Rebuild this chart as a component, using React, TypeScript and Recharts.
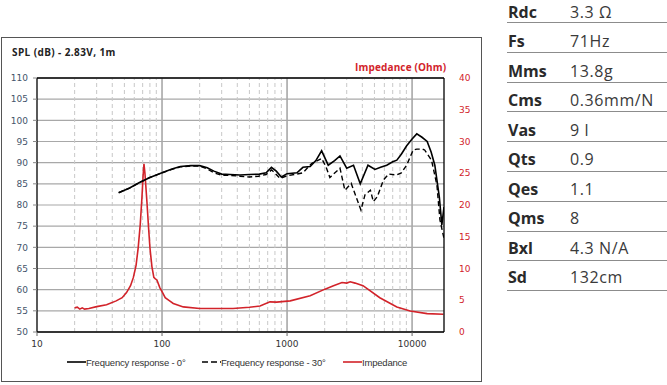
import React from 'react';
import { LineChart, Line, XAxis, YAxis, CartesianGrid, ReferenceLine } from 'recharts';

// ---- data ----
const spl0: { f: number; v: number }[] = [
  [45, 82.9], [55, 84.0], [66, 85.3], [80, 86.5], [100, 87.6], [120, 88.5], [140, 89.1], [170, 89.3],
  [200, 89.3], [230, 88.8], [260, 88.0], [300, 87.3], [350, 87.2], [420, 87.1], [500, 87.2], [600, 87.3],
  [680, 87.6], [750, 88.9], [820, 88.0], [900, 86.6], [1000, 87.4], [1200, 87.6], [1340, 88.9], [1530, 89.1],
  [1700, 90.5], [1890, 92.8], [2135, 89.4], [2400, 90.5], [2650, 91.6], [3000, 88.7], [3400, 89.4],
  [3850, 85.0], [4440, 89.4], [5050, 88.4], [5600, 88.9], [6270, 89.4], [7000, 90.2], [7550, 90.6],
  [8200, 92.0], [9050, 94.0], [10000, 95.6], [10900, 96.8], [12000, 96.0], [13200, 95.0], [14200, 92.5],
  [15200, 89.4], [16500, 82.0], [17300, 75.3], [18000, 79.5],
].map(([f, v]) => ({ f, v }));

const spl30: { f: number; v: number }[] = [
  [45, 82.9], [55, 84.0], [66, 85.3], [80, 86.5], [100, 87.6], [120, 88.4], [140, 89.0], [170, 89.2],
  [200, 89.2], [230, 88.5], [260, 87.6], [300, 87.0], [350, 87.0], [420, 86.8], [500, 86.6], [590, 86.8],
  [680, 87.2], [752, 88.3], [820, 87.2], [880, 86.3], [1000, 86.9], [1200, 87.3], [1340, 87.6], [1570, 89.8],
  [1890, 91.0], [2050, 89.0], [2200, 86.5], [2650, 88.7], [2900, 83.5], [3260, 85.1], [3600, 81.6],
  [3900, 78.8], [4200, 82.4], [4640, 83.5], [4900, 80.8], [5280, 82.0], [5900, 85.9], [6500, 87.3],
  [7550, 87.1], [8200, 87.6], [9050, 89.4], [10200, 93.0], [10900, 93.2], [12100, 93.2], [12600, 93.0],
  [14300, 90.6], [15800, 84.7], [16700, 76.5], [18000, 72.1],
].map(([f, v]) => ({ f, v }));

const impedance: { f: number; v: number }[] = [
  [20, 3.8], [21, 3.9], [22, 3.6], [23, 3.8], [24, 3.6], [26, 3.7], [30, 4.0], [36, 4.3], [43, 4.9],
  [48, 5.4], [52, 6.2], [56, 7.3], [59, 8.6], [62, 10.5], [64.5, 13.3], [67, 17], [69, 21], [70.5, 24.5],
  [71.7, 26.5], [73, 25], [75.6, 20.7], [78, 16.5], [80, 13.3], [83, 10.3], [86, 8.6], [88, 8.4], [91, 8.2],
  [96, 7.0], [101, 6.2], [106, 5.4], [115, 4.9], [123, 4.5], [148, 3.95], [200, 3.7], [370, 3.7],
  [500, 3.9], [608, 4.1], [730, 4.75], [825, 4.7], [1060, 4.9], [1530, 5.7], [2010, 6.75], [2350, 7.3],
  [2750, 7.8], [3000, 7.7], [3200, 7.9], [3500, 7.7], [4050, 7.3], [5520, 5.4], [7550, 3.95],
  [9650, 3.3], [13200, 2.9], [17800, 2.8],
].map(([f, v]) => ({ f, v }));

const xTicks = [10, 100, 1000, 10000];
const minorFreqs = [20, 30, 40, 50, 60, 70, 80, 90, 200, 300, 400, 500, 600, 700, 800, 900,
  2000, 3000, 4000, 5000, 6000, 7000, 8000, 9000];
const majorFreqs = [100, 1000, 10000];
const splTicks = [50, 55, 60, 65, 70, 75, 80, 85, 90, 95, 100, 105, 110];
const impTicks = [0, 5, 10, 15, 20, 25, 30, 35, 40];

const seriesNames = ['Frequency response - 0°', 'Frequency response - 30°', 'Impedance'];

const paramNames = ['Rdc', 'Fs', 'Mms', 'Cms', 'Vas', 'Qts', 'Qes', 'Qms', 'Bxl', 'Sd'];
const paramValues = ['3.3 Ω', '71Hz', '13.8g', '0.36mm/N', '9 l', '0.9', '1.1', '8', '4.3 N/A', '132cm'];

const RED = '#d2232a';
const chartFont = '"DejaVu Sans", Verdana, sans-serif';

export default function App() {
  return (
    <div style={{ position: 'absolute', left: 0, top: 0, width: 667, height: 385, background: '#fff', overflow: 'hidden' }}>
      {/* frame */}
      <div style={{ position: 'absolute', left: 1, top: 37, width: 481, height: 345, border: '1.5px solid #555', boxSizing: 'border-box' }} />
      <div style={{ position: 'absolute', left: 12, top: 45, fontFamily: '"Open Sans", sans-serif', fontWeight: 700, fontSize: 10, letterSpacing: 0.4, color: '#222', whiteSpace: 'nowrap' }}>
        SPL (dB) - 2.83V, 1m
      </div>
      <div style={{ position: 'absolute', left: 355, top: 60, fontFamily: '"Open Sans", sans-serif', fontWeight: 700, fontSize: 10, letterSpacing: 0.15, color: RED, whiteSpace: 'nowrap' }}>
        Impedance (Ohm)
      </div>
      <div style={{ position: 'absolute', left: 0, top: 0 }}>
        <LineChart width={482} height={385} margin={{ top: 78, right: 0, bottom: 23, left: 0 }}>
          <CartesianGrid yAxisId="spl" vertical={false} stroke="#a8a8a8" strokeWidth={1.2} />
          {minorFreqs.map((f) => (
            <ReferenceLine key={'m' + f} yAxisId="spl" x={f} stroke="#c8c8c8" strokeDasharray="4 3" strokeWidth={1} />
          ))}
          {majorFreqs.map((f) => (
            <ReferenceLine key={'M' + f} yAxisId="spl" x={f} stroke="#a8a8a8" strokeWidth={1.6} />
          ))}
          <ReferenceLine yAxisId="spl" y={110} stroke="#000" strokeWidth={1.3} />
          <XAxis
            dataKey="f"
            type="number"
            scale="log"
            domain={[10, 18000]}
            allowDataOverflow
            ticks={xTicks}
            height={30}
            tick={{ fill: '#333', fontSize: 9, fontFamily: chartFont }}
            tickSize={4}
            tickMargin={5}
            tickLine={{ stroke: '#666' }}
            axisLine={{ stroke: '#000', strokeWidth: 1.3 }}
          />
          <YAxis
            yAxisId="spl"
            orientation="left"
            domain={[50, 110]}
            ticks={splTicks}
            width={37}
            interval={0}
            tick={{ fill: '#44546a', fontSize: 9, fontFamily: chartFont }}
            tickSize={4}
            tickMargin={5}
            tickLine={{ stroke: '#888' }}
            axisLine={{ stroke: '#000', strokeWidth: 1.3 }}
          />
          <YAxis
            yAxisId="imp"
            orientation="right"
            domain={[0, 40]}
            ticks={impTicks}
            width={38}
            interval={0}
            tick={{ fill: RED, fontSize: 9, fontFamily: chartFont, textAnchor: 'start' }}
            tickLine={false}
            tickMargin={9}
            axisLine={{ stroke: '#000', strokeWidth: 1.3 }}
          />
          <Line yAxisId="imp" data={impedance} dataKey="v" name={seriesNames[2]} stroke={RED} strokeWidth={1.6} dot={false} isAnimationActive={false} type="linear" />
          <Line yAxisId="spl" data={spl30} dataKey="v" name={seriesNames[1]} stroke="#000" strokeWidth={1.4} strokeDasharray="5 3" dot={false} isAnimationActive={false} type="linear" />
          <Line yAxisId="spl" data={spl0} dataKey="v" name={seriesNames[0]} stroke="#000" strokeWidth={1.6} dot={false} isAnimationActive={false} type="linear" />
        </LineChart>
      </div>
      {/* legend */}
      <div style={{ position: 'absolute', left: 0, top: 355, width: 482, height: 16, fontFamily: '"Liberation Sans", Arial, sans-serif', fontSize: 9.5, color: '#333' }}>
        {[
          { x: 67, dash: undefined as string | undefined, color: '#000' },
          { x: 202, dash: '6 3', color: '#000' },
          { x: 343, dash: undefined, color: RED },
        ].map((it, i) => (
          <div key={i} style={{ position: 'absolute', left: it.x, top: 0, display: 'flex', alignItems: 'center', whiteSpace: 'nowrap' }}>
            <svg width={19} height={14}>
              <line x1={0} y1={7} x2={19} y2={7} stroke={it.color} strokeWidth={1.6} strokeDasharray={it.dash} />
            </svg>
            <span style={{ letterSpacing: -0.2 }}>{seriesNames[i]}</span>
          </div>
        ))}
      </div>
      {/* parameter table */}
      {paramNames.map((n, i) => (
        <div key={n}>
          <div style={{ position: 'absolute', left: 508, top: 11.6 + 29.5 * i - 8, height: 16, lineHeight: '16px', fontFamily: '"Open Sans", sans-serif', fontWeight: 700, fontSize: 16, color: '#2a2a2a', whiteSpace: 'nowrap' }}>
            {n}
          </div>
          <div style={{ position: 'absolute', left: 570, top: 11.6 + 29.5 * i - 8, height: 16, lineHeight: '16px', fontFamily: '"Open Sans", sans-serif', fontWeight: 400, fontSize: 16, color: '#3a3a3a', letterSpacing: 0.6, whiteSpace: 'nowrap' }}>
            {paramValues[i]}
          </div>
          <div style={{ position: 'absolute', left: 507, top: 22 + 29.8 * i, width: 160, height: 0, borderTop: '1.5px solid #8c8c8c' }} />
        </div>
      ))}
    </div>
  );
}
